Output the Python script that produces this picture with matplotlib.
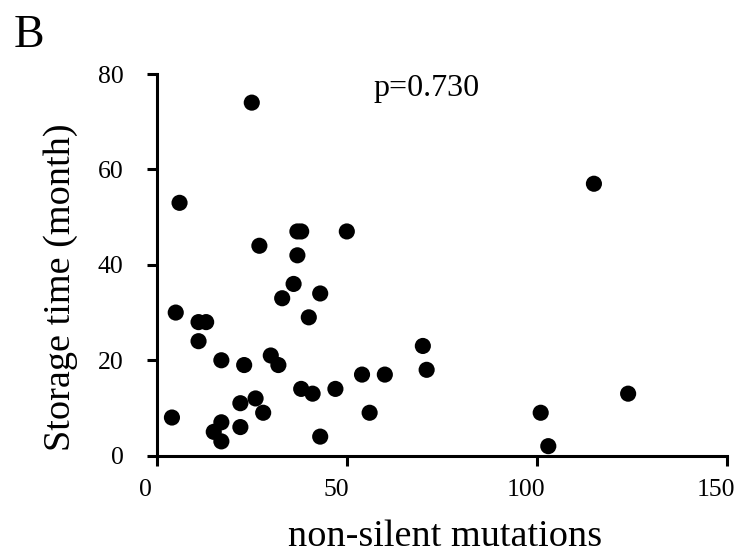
"""Storage time vs non-silent mutations scatter (panel B)."""

import matplotlib
matplotlib.use("Agg")
import matplotlib.pyplot as plt
import matplotlib.transforms as mtransforms

# non-silent mutation counts per sample
mutations = [4, 5, 6, 11, 13, 11, 17, 15, 17, 17,
             22, 22, 23, 25, 26, 27, 28, 30, 32, 33,
             36, 37, 37, 38, 38, 40, 41, 43, 43, 47,
             50, 54, 56, 60, 70, 71, 101, 103, 115, 124]
# storage time in months
storage = [8, 30, 53, 28, 28, 24, 20, 5, 7, 3,
           11, 6, 19, 74, 12, 44, 9, 21, 19, 33,
           36, 42, 47, 47, 14, 29, 13, 34, 4, 14,
           47, 17, 9, 17, 23, 18, 9, 2, 57, 13]
x_ticks = [0, 50, 100, 150]
y_ticks = [0, 20, 40, 60, 80]
p_label = "p=0.730"

plt.rcParams["font.family"] = ["Liberation Serif", "DejaVu Serif"]

fig = plt.figure(figsize=(7.4, 5.56), dpi=100)
ax = fig.add_axes([0.2118, 0.1804, 0.7706, 0.6865])

ax.scatter(mutations, storage, s=135, color="black", edgecolors="none",
           clip_on=False, zorder=3)

ax.set_xlim(0, 150)
ax.set_ylim(0, 80)
ax.set_xticks(x_ticks)
ax.set_yticks(y_ticks)
for side in ("top", "right"):
    ax.spines[side].set_visible(False)
for side in ("left", "bottom"):
    ax.spines[side].set_linewidth(2.2)
ax.tick_params(axis="both", direction="out", length=7, width=2.2,
               labelsize=18.5)
ax.tick_params(axis="y", pad=17)
ax.tick_params(axis="x", pad=10)

# labels in the original sit a little left of their ticks
shift = mtransforms.ScaledTranslation(-11 / 100, 0, fig.dpi_scale_trans)
for lbl in ax.get_xticklabels():
    lbl.set_transform(lbl.get_transform() + shift)

ax.set_xlabel("non-silent mutations", fontsize=27.5, va="baseline")
ax.xaxis.set_label_coords(0.506, -0.236)
ax.set_ylabel("Storage time (month)", fontsize=27.5, va="center")
ax.yaxis.set_label_coords(-0.168, 0.442)

ax.text(71, 75.3, p_label, fontsize=23, ha="center", va="baseline")
fig.text(0.019, 0.915, "B", fontsize=33, ha="left", va="baseline")

fig.savefig("out.png", dpi=100)
plt.close(fig)
